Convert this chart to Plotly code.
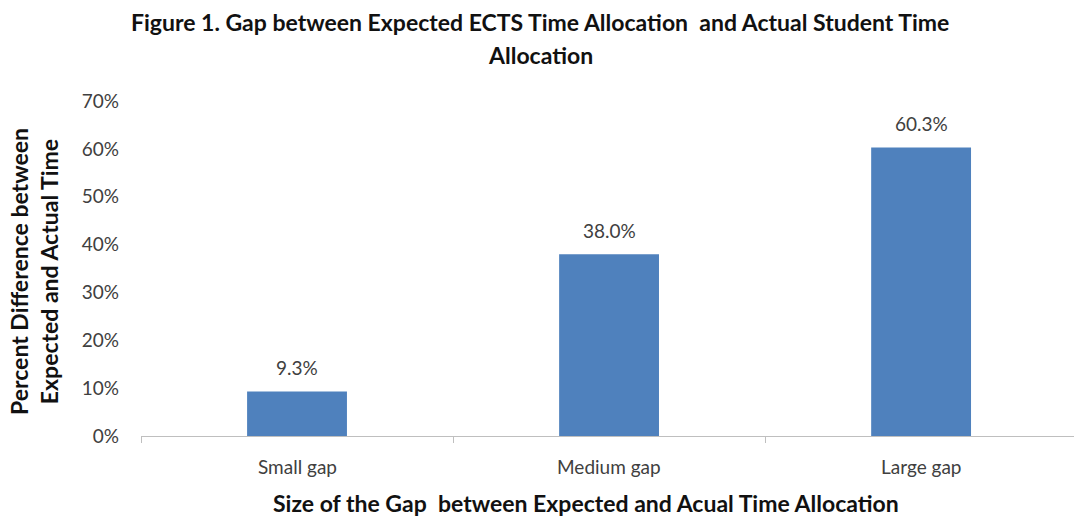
import plotly.graph_objects as go

categories = ["Small gap", "Medium gap", "Large gap"]
values = [0.093, 0.380, 0.603]
labels = ["9.3%", "38.0%", "60.3%"]
y_ticks = [0, 0.1, 0.2, 0.3, 0.4, 0.5, 0.6, 0.7]
y_tick_text = ["0%", "10%", "20%", "30%", "40%", "50%", "60%", "70%"]

FONT = "Lato"
TXT = "#404040"

fig = go.Figure(go.Bar(
    x=categories, y=values,
    marker=dict(color="#4F81BD", line=dict(width=0)),
    width=0.32, cliponaxis=False,
))

fig.update_layout(
    width=1074, height=518,
    margin=dict(l=141, r=0, t=101, b=82),
    paper_bgcolor="white", plot_bgcolor="white",
    showlegend=False,
    font=dict(family=FONT, color=TXT),
    xaxis=dict(range=[-0.5, 2.49], showline=True, linecolor="#BFBFBF", linewidth=1,
               ticks="outside", ticklen=6, tickcolor="#BFBFBF",
               tickmode="array", tickvals=[-0.5, 0.5, 1.5], ticktext=["", "", ""],
               showgrid=False, zeroline=False),
    yaxis=dict(range=[0, 0.7], tickvals=y_ticks, ticktext=y_tick_text,
               tickfont=dict(family=FONT, size=19, color=TXT), ticklabelstandoff=21,
               showgrid=False, zeroline=False, showline=False),
)

# data labels
for c, v, t in zip(categories, values, labels):
    fig.add_annotation(x=c, y=v, xref="x", yref="y", yshift=24, text=t,
                       showarrow=False, yanchor="middle",
                       font=dict(family=FONT, size=19, color=TXT))

# category labels
for c in categories:
    fig.add_annotation(x=c, y=0, xref="x", yref="paper", yshift=-30, text=c,
                       showarrow=False, yanchor="middle",
                       font=dict(family=FONT, size=19, color=TXT))

def place(xpix, ypix, text, size, angle=0):
    px0, px1 = 141, 1074
    py0, py1 = 101, 436
    fig.add_annotation(x=(xpix - px0) / (px1 - px0), y=(py1 - ypix) / (py1 - py0),
                       xref="paper", yref="paper", text=text, showarrow=False,
                       textangle=angle, font=dict(family=FONT, size=size, color="#111111"),
                       xanchor="center", yanchor="middle")

place(540, 22, "<b>Figure 1. Gap between Expected ECTS Time Allocation  and Actual Student Time</b>", 23)
place(540, 55, "<b>Allocation</b>", 23)
place(586, 503, "<b>Size of the Gap  between Expected and Acual Time Allocation</b>", 23)
place(34, 272, "<b>Percent Difference between<br>Expected and Actual Time</b>", 23, angle=-90)

fig.write_html("out.html")
